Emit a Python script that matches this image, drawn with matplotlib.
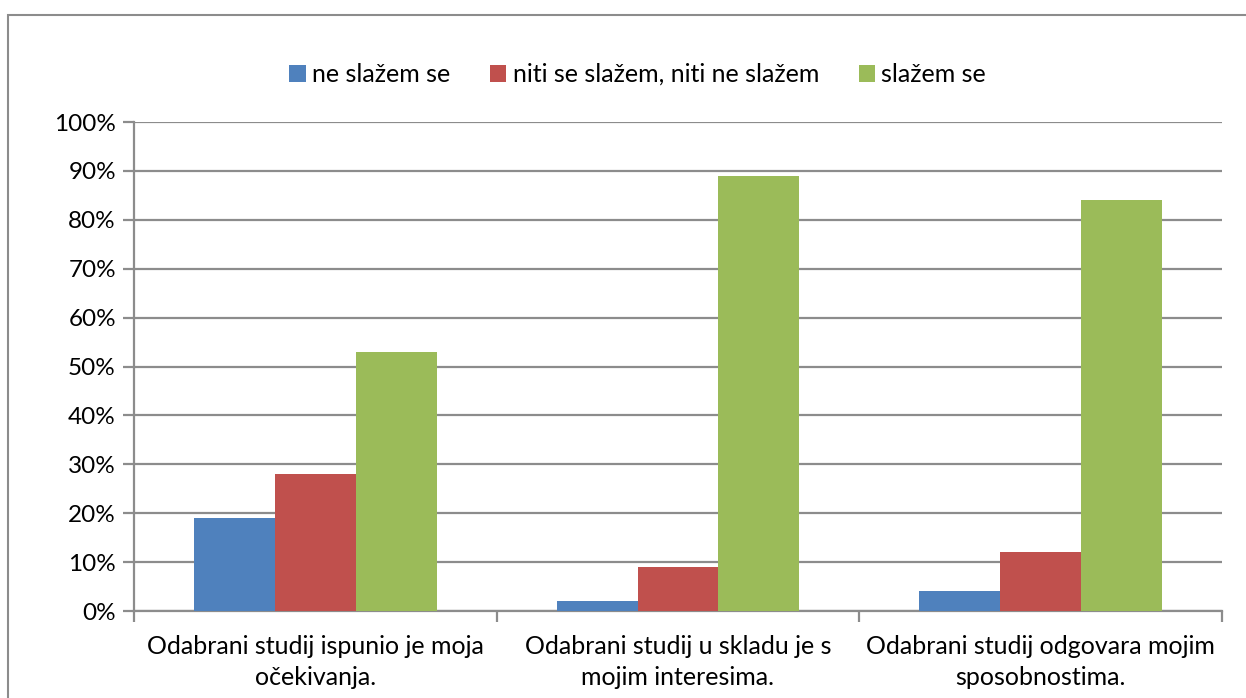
import numpy as np
import matplotlib.pyplot as plt
from matplotlib.patches import Rectangle

# podaci s grafa (postoci)
kategorije = ["Odabrani studij ispunio je moja\nočekivanja.",
              "Odabrani studij u skladu je s\nmojim interesima.",
              "Odabrani studij odgovara mojim\nsposobnostima."]
ne_slazem = [19, 2, 4]
niti_niti = [28, 9, 12]
slazem = [53, 89, 84]
serije = ["ne slažem se", "niti se slažem, niti ne slažem", "slažem se"]
boje = ["#4F81BD", "#C0504D", "#9BBB59"]
y_ticks = list(range(0, 101, 10))

plt.rcParams['font.family'] = ['Lato', 'DejaVu Sans']
siva = "#8C8C8C"

fig = plt.figure(figsize=(12.46, 6.98), dpi=100)
ax = fig.add_axes([0.1075, 0.1246, 0.8732, 0.7006])

# okvir oko cijelog grafa
fig.patches.append(Rectangle((8 / 1246, -0.1), 1.2, 1.1 - 15 / 698,
                             transform=fig.transFigure, fill=False,
                             edgecolor=siva, linewidth=1.5))

x = np.arange(len(kategorije))
w = 0.223
for i, (vals, ime, c) in enumerate(zip([ne_slazem, niti_niti, slazem], serije, boje)):
    ax.bar(x + (i - 1) * w, vals, width=w, color=c, label=ime, zorder=3)

ax.set_xlim(-0.5, len(kategorije) - 0.5)
ax.set_ylim(0, 100)
ax.set_yticks(y_ticks)
ax.set_yticklabels([f"{t}%" for t in y_ticks], fontsize=17.5)
ax.yaxis.grid(True, color=siva, linewidth=1.6, zorder=0)

ax.set_xticks(x)
ax.set_xticklabels(kategorije, fontsize=18, linespacing=1.45)
ax.set_xticks(np.arange(len(kategorije) + 1) - 0.5, minor=True)
ax.tick_params(axis='x', which='major', length=0, pad=17)
ax.tick_params(axis='x', which='minor', length=8, width=1.6, color=siva)
ax.tick_params(axis='y', length=8, width=1.6, color=siva, pad=5)

for s in ['top', 'right']:
    ax.spines[s].set_visible(False)
for s in ['left', 'bottom']:
    ax.spines[s].set_color(siva)
    ax.spines[s].set_linewidth(1.6)

ax.legend(loc='center', bbox_to_anchor=(0.463, 1.097), ncol=3, frameon=False,
          fontsize=18, handlelength=0.65, handleheight=0.65,
          handletextpad=0.25, columnspacing=1.6)

fig.savefig("out.png", dpi=100)
